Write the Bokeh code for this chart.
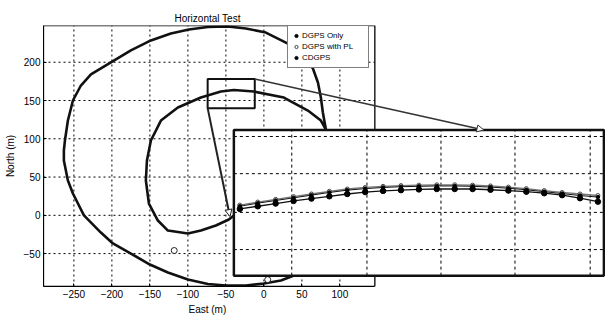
from bokeh.plotting import figure
from bokeh.models import (Range1d, FixedTicker, Title, Legend, LegendItem,
                          Arrow, NormalHead)
from bokeh.embed import file_html
from bokeh.resources import INLINE

# ---------------- data ----------------
east_ticks = [-250, -200, -150, -100, -50, 0, 50, 100]
north_ticks = [-50, 0, 50, 100, 150, 200]
main_xlim = (-290, 146)
main_ylim = (-93, 248)

track_east = [39.5, 22.4, 0, -23.7, -50, -73.7, -100, -126.3, -150, -175, -198.7,
              -214.5, -236.8, -251.3, -257.9, -263.2, -263.2, -261.8, -257.9, -251.3,
              -240.8, -227.6, -201.3, -175, -148.7, -122.4, -98.7, -73.7, -47.4, -23.7,
              2.6, 31.6, 52.6, 64.5, 71.1, 75, 77.6, 81.6,
              75, 57.9, 26.3, -13.2, -39.5, -56.6, -82.9, -113.2, -135.5, -148.7,
              -153.9, -155.3, -151.3, -139.5, -126.3, -100, -82.9, -63.2, -46.1, -39.5]
track_north = [-78.7, -85.2, -89.1, -91.7, -91.7, -89.8, -83.9, -74.7, -64.3, -49.9, -36.8,
               -22.5, 0, 28.5, 45.5, 71.6, 84.7, 97.7, 123.9, 150,
               169.6, 184, 199.7, 215.4, 228.5, 237.6, 242.8, 246, 246.7, 244.1,
               238.8, 224.4, 208.8, 191.8, 173.5, 153.9, 134.3, 112.1,
               123.8, 136.9, 153.9, 161.7, 163.7, 161.7, 153.9, 140.8, 123.8, 97.7,
               71.6, 45.5, 15.4, -6.8, -19.9, -23.8, -19.9, -13.3, -5.5, -0.3]

marker_east = [-118, 5]
marker_north = [-46, -84]

zoom_east = (-74, -12)
zoom_north = (140, 178)

inset_east = [-73, -70, -67, -64, -61, -58, -55, -52, -49, -46, -43, -40, -37, -34,
              -31, -28, -25, -22, -19, -16, -13]
dgps_only = [158.1, 158.9, 159.6, 160.3, 161.0, 161.7, 162.3, 162.7, 163.0, 163.2, 163.3,
             163.4, 163.4, 163.3, 163.1, 162.8, 162.4, 161.9, 161.4, 160.9, 160.5]
dgps_pl = [158.4, 159.2, 159.9, 160.6, 161.3, 162.0, 162.6, 163.0, 163.3, 163.5, 163.6,
           163.7, 163.7, 163.6, 163.4, 163.1, 162.7, 162.2, 161.7, 161.3, 160.9]
cdgps = [157.4, 158.1, 158.8, 159.5, 160.1, 160.7, 161.3, 161.8, 162.1, 162.3, 162.5,
         162.6, 162.6, 162.6, 162.4, 162.2, 161.9, 161.5, 161.0, 160.2, 159.3]
inset_grid_east = [-64.3, -51.7, -39.3, -26.9, -14.3]
inset_grid_north = [146.8, 156.5, 166.6, 176.3]

legend_labels = ["DGPS Only", "DGPS with PL", "CDGPS"]

# ---------------- layout constants ----------------
FONT = "Liberation Sans"
frame_x_end = 449.5
inset_target_x = (-39.5, 447.4)
inset_target_y = (-78.8, 111.5)
conn1_end = (-44.7, -1.6)
conn2_end = (289.5, 111.5)

p = figure(width=605, height=323, x_range=Range1d(main_xlim[0], frame_x_end),
           y_range=Range1d(*main_ylim), output_backend="svg", toolbar_location=None,
           title=None,
           min_border_left=43, min_border_right=0, min_border_top=25, min_border_bottom=37)
p.outline_line_color = None
p.background_fill_color = "white"
p.border_fill_color = "white"
p.xgrid.visible = False
p.ygrid.visible = False

for ax in (p.xaxis[0], p.yaxis[0]):
    ax.major_label_text_font = FONT
    ax.major_label_text_font_size = "10px"
    ax.major_label_text_color = "black"
    ax.major_tick_in = 3
    ax.major_tick_out = 0
    ax.minor_tick_in = 0
    ax.minor_tick_out = 0
    ax.major_tick_line_color = "black"
    ax.axis_line_color = "black"
    ax.major_label_standoff = 3
p.xaxis.ticker = FixedTicker(ticks=east_ticks)
p.xaxis.bounds = main_xlim
p.yaxis.ticker = FixedTicker(ticks=north_ticks)
p.yaxis.axis_label = "North (m)"
p.yaxis.axis_label_text_font = FONT
p.yaxis.axis_label_text_font_size = "10px"
p.yaxis.axis_label_text_font_style = "normal"
p.yaxis.axis_label_text_color = "black"
p.yaxis.axis_label_standoff = 5

# main grid
ne, nn = len(east_ticks), len(north_ticks)
p.segment(x0=east_ticks, y0=[main_ylim[0]] * ne, x1=east_ticks, y1=[main_ylim[1]] * ne,
          line_color="black", line_dash="2 3", line_width=1)
p.segment(x0=[main_xlim[0]] * nn, y0=north_ticks, x1=[main_xlim[1]] * nn, y1=north_ticks,
          line_color="black", line_dash="2 3", line_width=1)

# track
p.line(track_east, track_north, line_color="#111111", line_width=2.6, line_join="round")
p.scatter(marker_east, marker_north, marker="circle", size=6, fill_color="white",
          line_color="#222222", line_width=1)

# axes box and zoom rectangle
p.quad(left=main_xlim[0], right=main_xlim[1], bottom=main_ylim[0], top=main_ylim[1],
       fill_color=None, line_color="black", line_width=1.3)
p.quad(left=zoom_east[0], right=zoom_east[1], bottom=zoom_north[0], top=zoom_north[1],
       fill_color=None, line_color="#111111", line_width=2)

# connectors
p.add_layout(Arrow(end=NormalHead(size=7, fill_color="white", line_color="#222222", line_width=1),
                   x_start=zoom_east[0], y_start=zoom_north[0],
                   x_end=conn1_end[0], y_end=conn1_end[1],
                   line_color="#222222", line_width=2))
p.add_layout(Arrow(end=NormalHead(size=7, fill_color="white", line_color="#333333", line_width=1),
                   x_start=zoom_east[1], y_start=zoom_north[1],
                   x_end=conn2_end[0], y_end=conn2_end[1],
                   line_color="#333333", line_width=1.6))

# inset
sub = p.subplot(x_source=Range1d(*zoom_east), y_source=Range1d(*zoom_north),
                x_target=Range1d(*inset_target_x), y_target=Range1d(*inset_target_y))
sub.quad(left=zoom_east[0], right=zoom_east[1], bottom=zoom_north[0], top=zoom_north[1],
         fill_color="white", line_color=None)
gi, gn = len(inset_grid_east), len(inset_grid_north)
sub.segment(x0=inset_grid_east, y0=[zoom_north[0]] * gi, x1=inset_grid_east, y1=[zoom_north[1]] * gi,
            line_color="black", line_dash="3 3", line_width=1)
sub.segment(x0=[zoom_east[0]] * gn, y0=inset_grid_north, x1=[zoom_east[1]] * gn, y1=inset_grid_north,
            line_color="black", line_dash="3 3", line_width=1)
sub.line(inset_east, dgps_pl, line_color="#777777", line_width=1.3)
sub.line(inset_east, dgps_only, line_color="#111111", line_width=1)
sub.line(inset_east, cdgps, line_color="#111111", line_width=1.3)
r_pl = sub.scatter(inset_east, dgps_pl, marker="circle", size=4, fill_color="white",
                   line_color="#444444", line_width=1)
r_only = sub.scatter(inset_east, dgps_only, marker="circle", size=3.5, fill_color="black",
                     line_color="black")
r_cd = sub.scatter(inset_east, cdgps, marker="circle", size=5.5, fill_color="black",
                   line_color="black")
sub.quad(left=zoom_east[0], right=zoom_east[1], bottom=zoom_north[0], top=zoom_north[1],
         fill_color=None, line_color="#111111", line_width=2.5)

# legend
legend = Legend(items=[LegendItem(label=legend_labels[0], renderers=[r_only]),
                       LegendItem(label=legend_labels[1], renderers=[r_pl]),
                       LegendItem(label=legend_labels[2], renderers=[r_cd])],
                location=(244, 218), padding=4, spacing=0, margin=0,
                label_height=11, glyph_height=11, glyph_width=8, label_standoff=2,
                label_width=62, label_text_font=FONT, label_text_font_size="8px",
                label_text_color="black",
                border_line_color="black", border_line_width=1,
                background_fill_color="white", background_fill_alpha=1)
p.add_layout(legend)

# title and x label (as side panels so they are not clipped)
p.add_layout(Title(text="Horizontal Test", align="left", offset=131, standoff=4,
                   text_font=FONT, text_font_size="10px", text_font_style="normal",
                   text_color="black"), "above")
p.add_layout(Title(text="East (m)", align="left", offset=145, standoff=2,
                   text_font=FONT, text_font_size="10px", text_font_style="normal",
                   text_color="black"), "below")

open("out.html", "w").write(file_html(p, INLINE))
